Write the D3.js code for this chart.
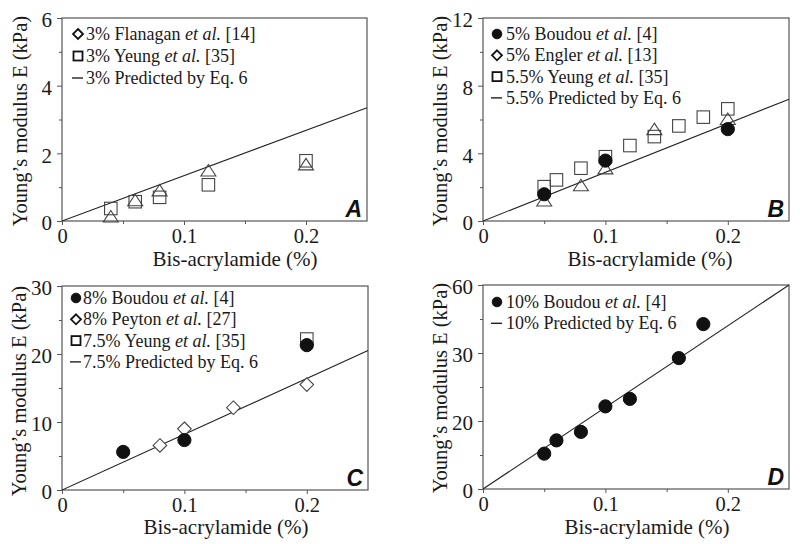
<!DOCTYPE html>
<html>
<head>
<meta charset="utf-8">
<script src="https://cdn.jsdelivr.net/npm/d3@7"></script>
<style>
  html, body { margin: 0; padding: 0; background: #fff; }
  svg { display: block; }
</style>
</head>
<body>
<svg id="chart" width="800" height="544" font-family="Liberation Serif, Times New Roman, serif"></svg>
<script>
// ---------------- DATA ----------------
const xDomain = [0, 0.25];
const xMajorTicks = [0, 0.1, 0.2];
const xMajorTickLabels = ["0", "0.1", "0.2"];
const xMinorTicks = [0.05, 0.15];
const xAxisTitle = "Bis-acrylamide (%)";
const yAxisTitle = "Young\u2019s modulus E (kPa)";

// Panel A (3%)
const aYDomain = [0, 6];
const aYMajorTicks = [0, 2, 4, 6];
const aYTickLabels = ["0", "2", "4", "6"];
const aYMinorTicks = [1, 3, 5];
const aFlanaganX = [0.04, 0.06, 0.08, 0.12, 0.2];
const aFlanaganY = [0.12, 0.6, 0.89, 1.48, 1.66];
const aYeungX = [0.04, 0.06, 0.08, 0.12, 0.2];
const aYeungY = [0.37, 0.57, 0.7, 1.07, 1.78];
const aPredX = [0, 0.25];
const aPredY = [0, 3.35];
const aLegend = ["3% Flanagan |et al.| [14]", "3% Yeung |et al.| [35]", "3% Predicted by Eq. 6"];

// Panel B (5%)
const bYDomain = [0, 12];
const bYMajorTicks = [0, 4, 8, 12];
const bYTickLabels = ["0", "4", "8", "12"];
const bYMinorTicks = [2, 6, 10];
const bBoudouX = [0.05, 0.1, 0.2];
const bBoudouY = [1.58, 3.57, 5.43];
const bEnglerX = [0.05, 0.08, 0.1, 0.14, 0.2];
const bEnglerY = [1.18, 2.08, 3.08, 5.4, 6.0];
const bYeungX = [0.05, 0.06, 0.08, 0.1, 0.12, 0.14, 0.16, 0.18, 0.2];
const bYeungY = [2.03, 2.43, 3.12, 3.8, 4.46, 4.99, 5.62, 6.14, 6.63];
const bPredX = [0, 0.25];
const bPredY = [0, 7.2];
const bLegend = ["5% Boudou |et al.| [4]", "5% Engler |et al.| [13]", "5.5% Yeung |et al.| [35]", "5.5% Predicted by Eq. 6"];

// Panel C (8%)
const cYDomain = [0, 30];
const cYMajorTicks = [0, 10, 20, 30];
const cYTickLabels = ["0", "10", "20", "30"];
const cYMinorTicks = [5, 15, 25];
const cBoudouX = [0.05, 0.1, 0.2];
const cBoudouY = [5.6, 7.35, 21.3];
const cPeytonX = [0.08, 0.1, 0.14, 0.2];
const cPeytonY = [6.55, 9.0, 12.1, 15.5];
const cYeungX = [0.2];
const cYeungY = [22.2];
const cPredX = [0, 0.25];
const cPredY = [0, 20.5];
const cLegend = ["8% Boudou |et al.| [4]", "8% Peyton |et al.| [27]", "7.5% Yeung |et al.| [35]", "7.5% Predicted by Eq. 6"];

// Panel D (10%)
const dYDomain = [0, 60];
const dYMajorTicks = [0, 20, 40, 60];
const dYTickLabels = ["0", "20", "30", "60"];
const dYMinorTicks = [10, 30, 50];
const dBoudouX = [0.05, 0.06, 0.08, 0.1, 0.12, 0.16, 0.18];
const dBoudouY = [10.4, 14.3, 16.8, 24.3, 26.5, 38.5, 48.5];
const dPredX = [0, 0.25];
const dPredY = [0, 60];
const dLegend = ["10% Boudou |et al.| [4]", "10% Predicted by Eq. 6"];

// ---------------- DRAWING ----------------
const SERIF = "Liberation Serif, Times New Roman, serif";
const svg = d3.select("#chart");
const AXIS = "#555";
const MARK = "#444";
const TXT = "#1a1a1a";

function zip(xs, ys) { return xs.map((x, i) => ({x, y: ys[i]})); }

function drawMarker(g, type, cx, cy, big) {
  if (type === "circle") {
    g.append("circle").attr("cx", cx).attr("cy", cy).attr("r", big ? 6.6 : 4.8)
      .attr("fill", "#111").attr("stroke", "#111");
  } else if (type === "square") {
    const s = big ? 12.5 : 9;
    g.append("rect").attr("x", cx - s/2).attr("y", cy - s/2).attr("width", s).attr("height", s)
      .attr("fill", big ? "none" : "#fff").attr("stroke", big ? MARK : "#111").attr("stroke-width", big ? 1.1 : 1.8);
  } else if (type === "diamond") {
    const s = big ? 6.8 : 5;
    g.append("path").attr("d", `M${cx},${cy-s}L${cx+s},${cy}L${cx},${cy+s}L${cx-s},${cy}Z`)
      .attr("fill", "#fff").attr("stroke", big ? MARK : "#111").attr("stroke-width", big ? 1.1 : 1.8);
  } else if (type === "triangle") {
    g.append("path").attr("d", `M${cx},${cy-6.5}L${cx+7.5},${cy+5}L${cx-7.5},${cy+5}Z`)
      .attr("fill", "none").attr("stroke", MARK).attr("stroke-width", 1.1);
  } else if (type === "line") {
    g.append("line").attr("x1", cx - 6).attr("x2", cx + 5).attr("y1", cy).attr("y2", cy)
      .attr("stroke", "#111").attr("stroke-width", 1.3);
  }
}

function panel(cfg) {
  const {box, yDomain, yMajor, yLabels, yMinor, series, pred, legend, legendTypes, legendPos, letter, yTitlePos, xTitlePos} = cfg;
  const [L, T, R, B] = box;
  const x = d3.scaleLinear().domain(xDomain).range([L, R]);
  const y = d3.scaleLinear().domain(yDomain).range([B, T]);
  const g = svg.append("g");

  // frame
  g.append("rect").attr("x", L).attr("y", T).attr("width", R - L).attr("height", B - T)
    .attr("fill", "none").attr("stroke", AXIS).attr("stroke-width", 1.2);

  // y axis ticks
  const yAxis = d3.axisLeft(y).tickValues(yMajor).tickSize(5).tickPadding(5)
    .tickFormat((d, i) => yLabels[i]);
  const ya = g.append("g").attr("transform", `translate(${L},0)`).call(yAxis);
  ya.select(".domain").remove();
  ya.selectAll("line").attr("stroke", AXIS);
  ya.selectAll("text").attr("font-size", 21).attr("fill", TXT)
    .attr("font-family", SERIF).attr("dy", "0.42em");
  const ym = g.append("g").attr("transform", `translate(${L},0)`)
    .call(d3.axisLeft(y).tickValues(yMinor).tickSize(3).tickFormat(""));
  ym.select(".domain").remove();
  ym.selectAll("line").attr("stroke", AXIS);

  // x axis ticks
  const xAxis = d3.axisBottom(x).tickValues(xMajorTicks).tickSize(4).tickPadding(4)
    .tickFormat((d, i) => xMajorTickLabels[i]);
  const xa = g.append("g").attr("transform", `translate(0,${B})`).call(xAxis);
  xa.select(".domain").remove();
  xa.selectAll("line").attr("stroke", AXIS);
  xa.selectAll("text").attr("font-size", 20.5).attr("fill", TXT)
    .attr("font-family", SERIF).attr("dy", "0.68em");
  const xm = g.append("g").attr("transform", `translate(0,${B})`)
    .call(d3.axisBottom(x).tickValues(xMinorTicks).tickSize(3).tickFormat(""));
  xm.select(".domain").remove();
  xm.selectAll("line").attr("stroke", AXIS);

  // prediction line
  const clipId = "clip" + letter;
  svg.append("clipPath").attr("id", clipId).append("rect")
    .attr("x", L).attr("y", T - 2).attr("width", R - L + 2).attr("height", B - T + 2);
  g.append("path").datum(zip(pred[0], pred[1]))
    .attr("clip-path", `url(#${clipId})`)
    .attr("d", d3.line().x(d => x(d.x)).y(d => y(d.y)))
    .attr("fill", "none").attr("stroke", "#222").attr("stroke-width", 1.1);

  // series
  series.forEach(s => {
    zip(s.xs, s.ys).forEach(d => drawMarker(g, s.type, x(d.x), y(d.y), true));
  });

  // legend
  legend.forEach((label, i) => {
    const ly = legendPos.y0 + i * legendPos.dy;
    drawMarker(g, legendTypes[i], legendPos.mx, ly, false);
    const t = g.append("text").attr("x", legendPos.tx).attr("y", ly + 6)
      .attr("font-size", 18).attr("font-family", SERIF).attr("fill", TXT);
    label.split("|").forEach((part, k) => {
      t.append("tspan").text(part).attr("font-style", k === 1 ? "italic" : "normal");
    });
  });

  // panel letter
  g.append("text").attr("x", R - 5).attr("y", B - 4).attr("text-anchor", "end")
    .attr("font-family", "Liberation Sans, Arial, sans-serif").attr("font-weight", "bold")
    .attr("font-style", "italic").attr("font-size", 23).attr("fill", "#111").text(letter);

  // axis titles
  g.append("text").attr("transform", `translate(${yTitlePos[0]},${yTitlePos[1]}) rotate(-90)`)
    .attr("text-anchor", "middle").attr("font-size", 20.5).attr("font-family", SERIF)
    .attr("fill", TXT).text(yAxisTitle);
  g.append("text").attr("x", xTitlePos[0]).attr("y", xTitlePos[1])
    .attr("text-anchor", "middle").attr("font-size", 21).attr("font-family", SERIF)
    .attr("fill", TXT).text(xAxisTitle);
}

panel({
  box: [62, 18, 367, 221], yDomain: aYDomain, yMajor: aYMajorTicks, yLabels: aYTickLabels, yMinor: aYMinorTicks,
  series: [
    {type: "square", xs: aYeungX, ys: aYeungY},
    {type: "triangle", xs: aFlanaganX, ys: aFlanaganY}
  ],
  pred: [aPredX, aPredY], legend: aLegend, legendTypes: ["diamond", "square", "line"],
  legendPos: {y0: 34, dy: 22, mx: 78, tx: 86}, letter: "A",
  yTitlePos: [27, 121], xTitlePos: [235, 266]
});

panel({
  box: [483, 18, 789, 221], yDomain: bYDomain, yMajor: bYMajorTicks, yLabels: bYTickLabels, yMinor: bYMinorTicks,
  series: [
    {type: "square", xs: bYeungX, ys: bYeungY},
    {type: "triangle", xs: bEnglerX, ys: bEnglerY},
    {type: "circle", xs: bBoudouX, ys: bBoudouY}
  ],
  pred: [bPredX, bPredY], legend: bLegend, legendTypes: ["circle", "diamond", "square", "line"],
  legendPos: {y0: 34, dy: 21.3, mx: 497, tx: 506}, letter: "B",
  yTitlePos: [447, 121], xTitlePos: [650, 266]
});

panel({
  box: [62, 286, 368, 490], yDomain: cYDomain, yMajor: cYMajorTicks, yLabels: cYTickLabels, yMinor: cYMinorTicks,
  series: [
    {type: "square", xs: cYeungX, ys: cYeungY},
    {type: "diamond", xs: cPeytonX, ys: cPeytonY},
    {type: "circle", xs: cBoudouX, ys: cBoudouY}
  ],
  pred: [cPredX, cPredY], legend: cLegend, legendTypes: ["circle", "diamond", "square", "line"],
  legendPos: {y0: 298, dy: 21.3, mx: 76, tx: 83}, letter: "C",
  yTitlePos: [26, 391], xTitlePos: [226, 534]
});

panel({
  box: [483, 285, 789, 489], yDomain: dYDomain, yMajor: dYMajorTicks, yLabels: dYTickLabels, yMinor: dYMinorTicks,
  series: [
    {type: "circle", xs: dBoudouX, ys: dBoudouY}
  ],
  pred: [dPredX, dPredY], legend: dLegend, legendTypes: ["circle", "line"],
  legendPos: {y0: 302, dy: 21.3, mx: 497, tx: 506}, letter: "D",
  yTitlePos: [447, 388], xTitlePos: [647, 534]
});
</script>
</body>
</html>
